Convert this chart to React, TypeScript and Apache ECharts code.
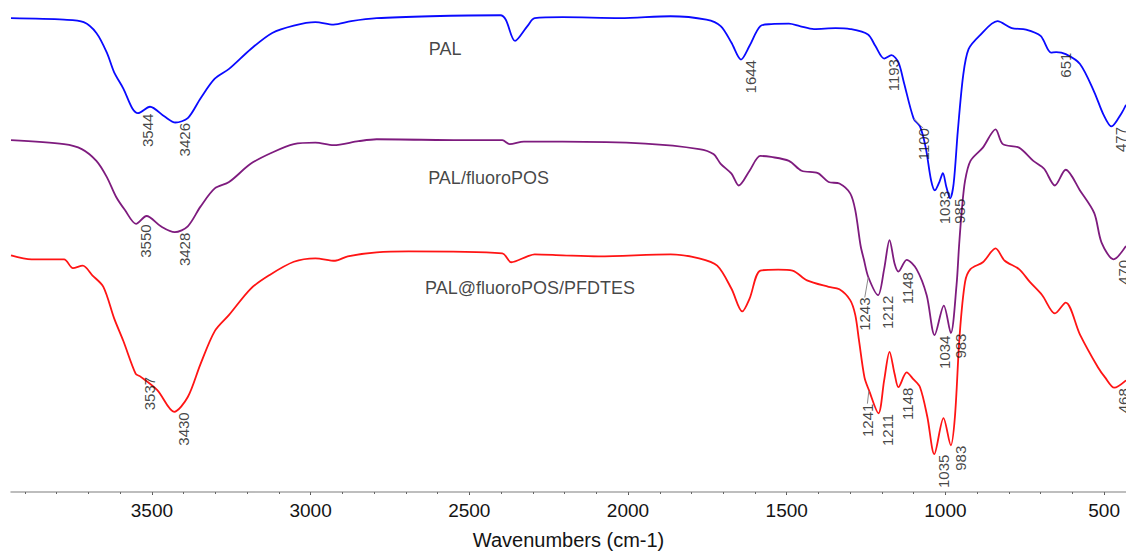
import React, { useEffect, useRef } from "react";
import * as echarts from "echarts";

// FTIR spectra (offset transmittance, a.u.) against wavenumber in cm-1
const palSpectrum: [number, number][] = [
  [3944, 96.3], [3777, 96.0], [3715, 95.5], [3675, 93.3], [3642, 89.3], [3619, 85.3],
  [3590, 82.0], [3562, 78.0], [3544, 77.0], [3506, 78.3], [3460, 76.3], [3426, 75.1],
  [3387, 76.0], [3347, 80.0], [3302, 84.0], [3257, 86.0], [3189, 90.0], [3121, 93.3],
  [3053, 94.8], [2985, 95.5], [2928, 95.0], [2872, 95.7], [2792, 96.3], [2623, 96.7],
  [2402, 96.9], [2385, 96.0], [2356, 91.7], [2317, 94.7], [2294, 96.3], [2206, 96.5],
  [2025, 96.3], [1866, 96.7], [1753, 96.0], [1708, 94.7], [1674, 91.3], [1644, 87.9],
  [1617, 90.7], [1583, 94.7], [1549, 95.1], [1493, 95.2], [1459, 94.7], [1414, 94.1],
  [1346, 94.3], [1300, 94.1], [1244, 93.0], [1221, 90.7], [1193, 88.1], [1170, 88.8],
  [1148, 87.3], [1131, 83.3], [1100, 75.9], [1080, 74.3], [1062, 70.0], [1045, 63.3],
  [1033, 61.3], [1019, 63.0], [1008, 64.8], [997, 62.0], [985, 59.7], [974, 62.7],
  [961, 73.3], [944, 84.7], [927, 90.0], [893, 92.7], [836, 95.7], [791, 94.3],
  [746, 94.0], [700, 92.7], [667, 89.3], [651, 89.4], [621, 89.0], [576, 87.0],
  [531, 81.3], [502, 76.7], [477, 74.3], [445, 77.0], [431, 78.7],
];

const fluoroPosSpectrum: [number, number][] = [
  [3944, 71.5], [3777, 70.7], [3721, 69.7], [3675, 67.3], [3642, 64.0], [3613, 60.0],
  [3585, 57.3], [3550, 54.5], [3517, 56.1], [3472, 54.0], [3428, 52.8], [3387, 54.0],
  [3347, 58.0], [3302, 61.7], [3257, 63.0], [3189, 66.7], [3121, 69.0], [3053, 70.7],
  [2985, 71.0], [2928, 70.5], [2849, 71.3], [2792, 71.7], [2509, 71.5], [2396, 71.5],
  [2373, 70.7], [2328, 71.2], [2206, 71.2], [1946, 70.8], [1776, 69.7], [1731, 68.7],
  [1708, 66.7], [1674, 64.7], [1651, 62.3], [1617, 65.3], [1583, 68.3], [1549, 68.1],
  [1493, 67.3], [1453, 65.3], [1402, 64.8], [1368, 63.0], [1334, 62.7], [1300, 60.7],
  [1284, 57.3], [1267, 50.0], [1257, 47.3], [1243, 43.7], [1212, 40.0], [1193, 45.3],
  [1176, 51.2], [1160, 46.4], [1148, 44.8], [1122, 47.2], [1091, 45.3], [1059, 40.0],
  [1034, 31.9], [1005, 37.9], [983, 32.3], [965, 42.0], [957, 50.0], [948, 57.5],
  [938, 63.3], [921, 67.3], [882, 70.0], [842, 73.7], [819, 70.7], [768, 70.0],
  [723, 67.3], [689, 65.7], [655, 62.3], [621, 65.5], [576, 61.3], [531, 56.7],
  [508, 50.7], [470, 47.3], [431, 50.0],
];

const pfdtesSpectrum: [number, number][] = [
  [3944, 48.1], [3879, 47.3], [3777, 47.3], [3749, 45.5], [3718, 46.0], [3687, 44.0],
  [3653, 41.7], [3619, 35.3], [3590, 30.7], [3551, 24.0], [3537, 23.5], [3483, 20.7],
  [3430, 16.3], [3387, 19.3], [3347, 26.0], [3302, 32.7], [3257, 36.0], [3189, 41.3],
  [3132, 44.0], [3053, 46.8], [2985, 47.5], [2923, 47.0], [2883, 47.9], [2792, 48.7],
  [2691, 48.9], [2396, 48.5], [2368, 46.7], [2317, 47.9], [2294, 48.3], [2206, 48.1],
  [2093, 47.9], [1866, 48.3], [1776, 47.5], [1719, 46.0], [1674, 41.3], [1640, 36.7],
  [1617, 39.3], [1583, 45.0], [1527, 45.2], [1482, 45.0], [1436, 43.0], [1368, 41.7],
  [1334, 41.2], [1300, 39.0], [1284, 36.0], [1272, 30.7], [1255, 23.3], [1241, 20.7],
  [1211, 16.0], [1193, 22.7], [1176, 28.5], [1160, 24.0], [1148, 21.3], [1122, 24.3],
  [1102, 23.0], [1080, 21.3], [1057, 15.3], [1035, 7.7], [1006, 15.0], [983, 9.5],
  [970, 15.3], [955, 32.0], [938, 42.7], [921, 45.3], [882, 46.7], [842, 49.5],
  [813, 47.0], [768, 45.3], [734, 42.7], [695, 40.0], [655, 36.3], [621, 38.5],
  [576, 32.0], [519, 25.3], [497, 23.3], [468, 21.2], [431, 22.7],
];

// Annotated band positions (cm-1)
const palPeaks = [3544, 3426, 1644, 1193, 1100, 1033, 985, 651, 477];
const fluoroPosPeaks = [3550, 3428, 1243, 1212, 1148, 1034, 983, 470];
const pfdtesPeaks = [3537, 3430, 1241, 1211, 1148, 1035, 983, 468];

const sampleNames = ["PAL", "PAL/fluoroPOS", "PAL@fluoroPOS/PFDTES"];
// where each sample name is written: [wavenumber, value]
const sampleNameAnchors: [number, number][] = [
  [2626, 89.9],
  [2628, 63.7],
  [2638, 41.3],
];

const majorTicks = [500, 1000, 1500, 2000, 2500, 3000, 3500];
const minorTicks = [
  500, 600, 700, 800, 900, 1000, 1100, 1200, 1300, 1400, 1500, 1600, 1700, 1800,
  1900, 2000, 2100, 2200, 2300, 2400, 2500, 2600, 2700, 2800, 2900, 3000, 3100,
  3200, 3300, 3400, 3500, 3600, 3700, 3800, 3900,
];

const X_MIN = 431;
const X_MAX = 3944;

const lineColors = ["#0a0aff", "#7e1b7e", "#ff1414"];
const FONT = "Arial, 'Liberation Sans', Helvetica, sans-serif";
const HIDDEN = "rgba(0,0,0,0)";
const TEXT = "#141414";

// labels pushed off a crowded band (screen px: right, down), drawn with a leader line
const labelNudges: Record<string, Record<number, [number, number]>> = {
  PAL: { 1100: [0, 9] },
  "PAL/fluoroPOS": { 1243: [-13, 20] },
  "PAL@fluoroPOS/PFDTES": { 1241: [-11, 13] },
};

function valueAt(spectrum: [number, number][], w: number): number {
  const hit = spectrum.find((p) => p[0] === w);
  if (hit) return hit[1];
  for (let i = 0; i < spectrum.length - 1; i++) {
    const [w0, v0] = spectrum[i];
    const [w1, v1] = spectrum[i + 1];
    if ((w <= w0 && w >= w1) || (w >= w0 && w <= w1)) {
      return v0 + ((w - w0) / (w1 - w0)) * (v1 - v0);
    }
  }
  return spectrum[spectrum.length - 1][1];
}

function peakSeries(name: string, spectrum: [number, number][], peaks: number[]) {
  const nudges = labelNudges[name] || {};
  return {
    type: "scatter",
    name: name + " bands",
    silent: true,
    symbol: "circle",
    symbolSize: 1,
    itemStyle: { color: HIDDEN },
    z: 5,
    data: peaks.map((w) => ({
      value: [w, valueAt(spectrum, w)],
      labelLine: { show: !!nudges[w] },
    })),
    label: {
      show: true,
      formatter: (p: any) => String(p.value[0]),
      position: [10, 1],
      align: "right",
      verticalAlign: "middle",
      rotate: 90,
      fontSize: 15,
      fontFamily: FONT,
      color: TEXT,
    },
    labelLine: {
      show: false,
      lineStyle: { color: "#8a8a8a", width: 1 },
    },
    // the rotated label moves in its own frame: (dx, dy) = (-down, right)
    labelLayout: (p: any) => {
      const n = nudges[peaks[p.dataIndex]];
      return n ? { dx: -n[1], dy: n[0] } : {};
    },
  };
}

export default function App() {
  const ref = useRef<HTMLDivElement>(null);

  useEffect(() => {
    if (!ref.current) return;
    const chart = echarts.init(ref.current, undefined, { renderer: "svg" });
    const spectra = [palSpectrum, fluoroPosSpectrum, pfdtesSpectrum];
    const peaks = [palPeaks, fluoroPosPeaks, pfdtesPeaks];

    const lineSeries = spectra.map((s, i) => ({
      type: "line",
      name: sampleNames[i],
      data: s,
      showSymbol: false,
      smooth: 0.3,
      silent: true,
      lineStyle: { color: lineColors[i], width: 1.8 },
      z: 3,
    }));

    const nameSeries = {
      type: "scatter",
      name: "sample names",
      silent: true,
      symbolSize: 1,
      itemStyle: { color: HIDDEN },
      data: sampleNameAnchors.map((a, i) => ({ value: a, name: sampleNames[i] })),
      label: {
        show: true,
        formatter: (p: any) => p.name,
        position: [0, 0],
        align: "left",
        verticalAlign: "middle",
        fontSize: 18,
        fontFamily: FONT,
        color: TEXT,
      },
    };

    chart.setOption({
      animation: false,
      backgroundColor: "#ffffff",
      grid: { left: 11, right: 0, top: 0, bottom: 55, containLabel: false },
      xAxis: [
        {
          type: "value",
          min: X_MIN,
          max: X_MAX,
          inverse: true,
          position: "bottom",
          name: "Wavenumbers (cm-1)",
          nameLocation: "middle",
          nameGap: 38,
          nameTextStyle: { fontSize: 20, fontFamily: FONT, color: TEXT },
          axisLine: { show: true, lineStyle: { color: "#a8a8a8", width: 1.5 } },
          axisTick: {
            show: true,
            customValues: majorTicks,
            length: 3,
            lineStyle: { color: "#555", width: 1 },
          },
          axisLabel: {
            show: true,
            customValues: majorTicks,
            formatter: (v: number) => String(v),
            fontSize: 19,
            fontFamily: FONT,
            color: TEXT,
            margin: 9,
          },
          splitLine: { show: false },
        },
        {
          type: "value",
          min: X_MIN,
          max: X_MAX,
          inverse: true,
          position: "bottom",
          axisLine: { show: false },
          axisTick: {
            show: true,
            customValues: minorTicks,
            length: 2,
            lineStyle: { color: "#666", width: 1 },
          },
          axisLabel: { show: false },
          splitLine: { show: false },
        },
      ],
      yAxis: {
        type: "value",
        min: 0,
        max: 100,
        show: false,
        splitLine: { show: false },
      },
      series: [
        ...lineSeries,
        ...spectra.map((s, i) => peakSeries(sampleNames[i], s, peaks[i])),
        nameSeries,
      ],
    });

    return () => chart.dispose();
  }, []);

  return (
    <div
      ref={ref}
      style={{ position: "fixed", left: 0, top: 0, width: 1126, height: 555, background: "#fff" }}
    />
  );
}
